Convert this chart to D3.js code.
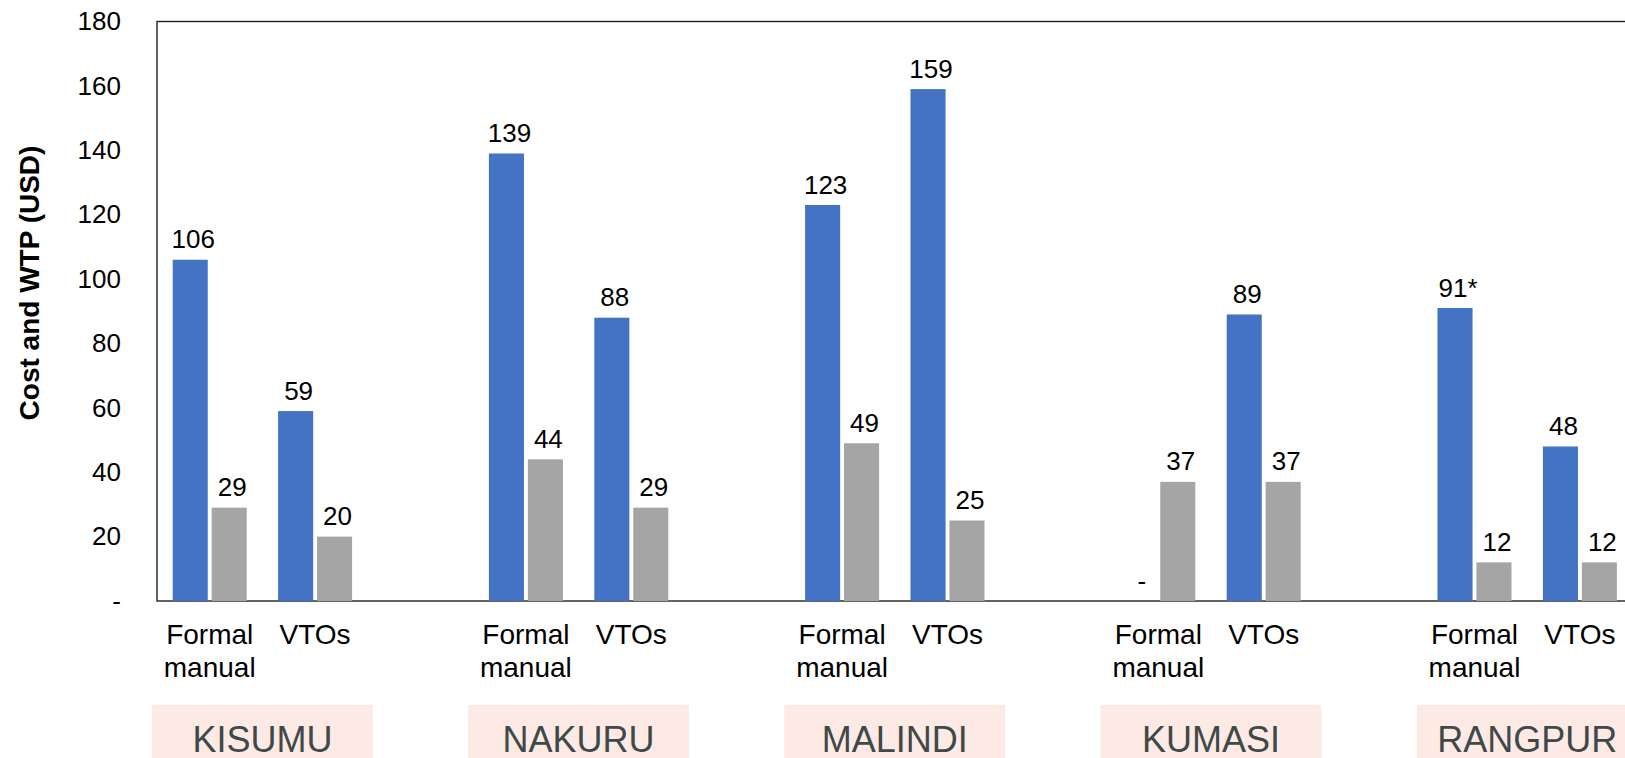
<!DOCTYPE html>
<html>
<head>
<meta charset="utf-8">
<script src="https://cdn.jsdelivr.net/npm/d3@7"></script>
<style>
  html, body { margin: 0; padding: 0; background: #fff; overflow: hidden; }
  svg { display: block; font-family: "Liberation Sans", Arial, sans-serif; }
</style>
</head>
<body>
<div id="chart"></div>
<script>
// Data
const cities = ['KISUMU', 'NAKURU', 'MALINDI', 'KUMASI', 'RANGPUR'];
const channels = ['Formal manual', 'VTOs'];
const costFormal = [106, 139, 123, 0, 91];
const costVTOs = [59, 88, 159, 89, 48];
const wtpFormal = [29, 44, 49, 37, 12];
const wtpVTOs = [20, 29, 25, 37, 12];
const costFormalNote = ['', '', '', '', '*'];
const yTicks = [0, 20, 40, 60, 80, 100, 120, 140, 160, 180];

// One row per city/channel pair
const rows = [];
cities.forEach((city, i) => {
  rows.push({ city, channel: channels[0], cost: costFormal[i], wtp: wtpFormal[i], note: costFormalNote[i] });
  rows.push({ city, channel: channels[1], cost: costVTOs[i], wtp: wtpVTOs[i], note: '' });
});

// Slots along the x axis, with an empty slot between cities
const slots = [];
cities.forEach((city, i) => {
  channels.forEach(ch => slots.push(`${city}|${ch}`));
  if (i < cities.length - 1) slots.push(`${city}|`);
});

const width = 1625;
const height = 758;
const plotLeft = 157;
const plotTop = 21.5;
const plotBottom = 601;
const slotWidth = 105.4;
const plotRight = plotLeft + slots.length * slotWidth;

const svg = d3.select('#chart')
  .append('svg')
  .attr('width', width)
  .attr('height', height);

const x0 = d3.scaleBand()
  .domain(slots)
  .range([plotLeft, plotRight]);

const x1 = d3.scaleBand()
  .domain(['cost', 'wtp'])
  .range([15.7, x0.bandwidth() - 15.7])
  .paddingInner(0.1);

const y = d3.scaleLinear()
  .domain([0, 180])
  .range([plotBottom, plotTop]);

const color = d3.scaleOrdinal()
  .domain(['cost', 'wtp'])
  .range(['#4472C4', '#A5A5A5']);

// Plot frame (right side runs off the picture)
svg.append('rect')
  .attr('x', plotLeft)
  .attr('y', plotTop)
  .attr('width', plotRight - plotLeft)
  .attr('height', plotBottom - plotTop)
  .attr('fill', 'none')
  .attr('stroke', '#222')
  .attr('stroke-width', 1.4);

// Y axis, labels only
const yAxis = d3.axisLeft(y)
  .tickValues(yTicks)
  .tickSize(0)
  .tickPadding(36)
  .tickFormat(d => d === 0 ? '-' : d);

svg.append('g')
  .attr('transform', `translate(${plotLeft},0)`)
  .call(yAxis)
  .call(g => g.select('.domain').remove())
  .selectAll('text')
  .style('font-family', '"Liberation Sans", Arial, sans-serif')
  .style('font-size', '26px')
  .style('fill', '#000');

svg.append('text')
  .attr('transform', 'translate(39,283) rotate(-90)')
  .attr('text-anchor', 'middle')
  .style('font-size', '28px')
  .style('font-weight', 'bold')
  .style('fill', '#000')
  .text('Cost and WTP (USD)');

// Bars
const groups = svg.append('g')
  .selectAll('g')
  .data(rows)
  .join('g')
  .attr('transform', d => `translate(${x0(`${d.city}|${d.channel}`)},0)`);

const bars = groups.selectAll('g')
  .data(d => [
    { key: 'cost', value: d.cost, label: d.cost === 0 ? '-' : `${d.cost}${d.note}` },
    { key: 'wtp', value: d.wtp, label: d.wtp === 0 ? '-' : `${d.wtp}` }
  ])
  .join('g');

bars.append('rect')
  .attr('x', d => x1(d.key))
  .attr('y', d => y(d.value))
  .attr('width', x1.bandwidth())
  .attr('height', d => y(0) - y(d.value))
  .attr('fill', d => color(d.key));

bars.append('text')
  .attr('x', d => x1(d.key) + x1.bandwidth() / 2 + 3)
  .attr('y', d => y(d.value) - 11.5)
  .attr('text-anchor', 'middle')
  .style('font-size', '26px')
  .style('fill', '#000')
  .text(d => d.label);

// X axis with wrapped channel labels
const xAxis = d3.axisBottom(x0)
  .tickSize(0)
  .tickSizeOuter(0)
  .tickFormat(d => d.split('|')[1]);

const xg = svg.append('g')
  .attr('transform', `translate(0,${plotBottom})`)
  .call(xAxis);

xg.select('.domain').remove();

xg.selectAll('text')
  .style('font-family', '"Liberation Sans", Arial, sans-serif')
  .style('font-size', '28px')
  .style('fill', '#000')
  .attr('dy', null)
  .each(function(d) {
    const words = d.split('|')[1].split(' ').filter(w => w);
    const t = d3.select(this).text(null);
    words.forEach((w, i) => {
      t.append('tspan')
        .attr('x', 0)
        .attr('y', 43 + i * 33)
        .text(w);
    });
  });

// City name boxes under each pair
const cityG = svg.append('g')
  .selectAll('g')
  .data(cities)
  .join('g')
  .attr('transform', c => `translate(${x0(`${c}|VTOs`)},0)`);

cityG.append('rect')
  .attr('x', -110.5)
  .attr('y', 705)
  .attr('width', 221)
  .attr('height', 60)
  .attr('fill', '#FDEAE4');

cityG.append('text')
  .attr('x', 0)
  .attr('y', 751.5)
  .attr('text-anchor', 'middle')
  .style('font-size', '36px')
  .style('fill', '#3F4949')
  .text(c => c);
</script>
</body>
</html>
